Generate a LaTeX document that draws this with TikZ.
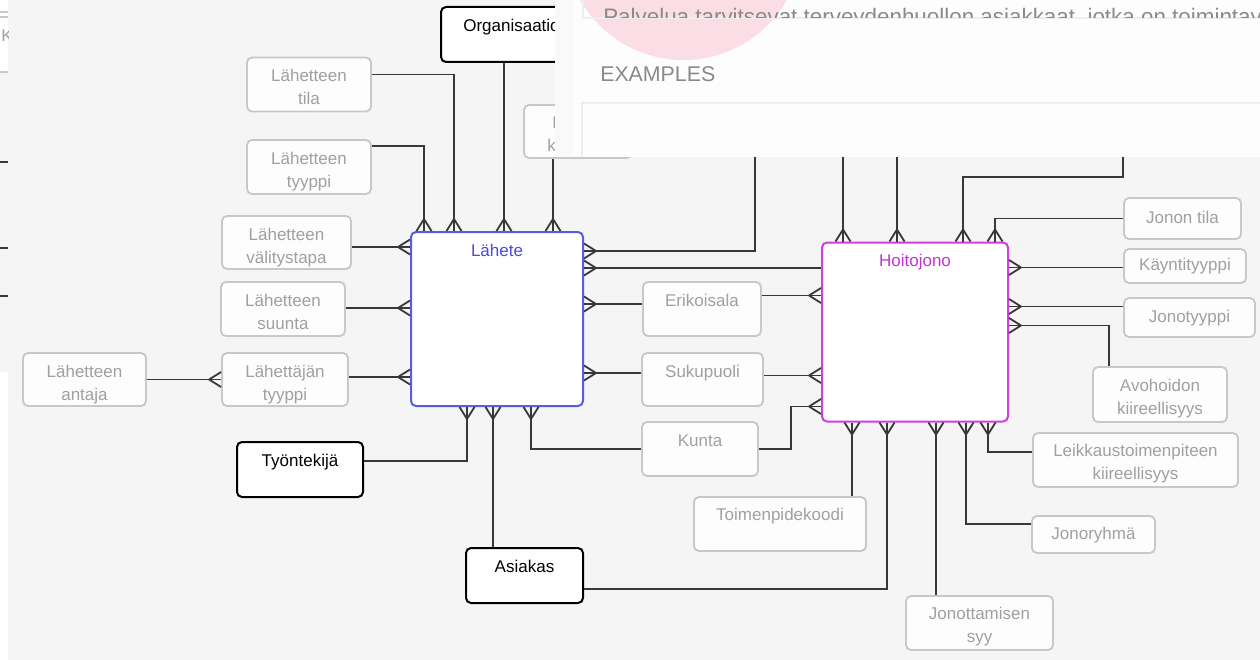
\documentclass[tikz,border=0pt]{standalone}
\usepackage{fontspec}
\setmainfont{Liberation Sans}
\usetikzlibrary{calc}
\definecolor{bgc}{HTML}{F5F5F5}
\definecolor{lnc}{HTML}{383838}
\definecolor{abd}{HTML}{C8C8C8}
\definecolor{atx}{HTML}{A0A0A0}
\definecolor{bluec}{HTML}{5A5AE8}
\definecolor{bluet}{HTML}{4B4BDB}
\definecolor{magc}{HTML}{D23DE3}
\definecolor{magt}{HTML}{C233D6}
\definecolor{pinkc}{HTML}{FBDDE6}
\definecolor{panelc}{HTML}{FDFDFD}
\definecolor{stripc}{HTML}{F9F9F9}
\definecolor{ptx}{HTML}{8A8A8A}
\definecolor{faint}{HTML}{EEEEEE}
\newcommand\dfs{\fontsize{12.75pt}{17.25pt}\selectfont}

\begin{document}
\begin{tikzpicture}[x=0.75pt,y=-0.75pt,
  sz/.style 2 args={minimum width=#1*0.75pt, minimum height=#2*0.75pt},
  conn/.style={draw=lnc, line width=1.35pt},
  attr/.style={draw=abd, fill=panelc, line width=1.4pt, rounded corners=3.75pt, inner sep=0pt},
  ent/.style={draw=black, fill=white, line width=1.5pt, rounded corners=3.75pt, inner sep=0pt},
  atxt/.style={font=\dfs, text=atx, align=center, inner sep=0pt},
  etxt/.style={font=\dfs, text=black, align=center, inner sep=0pt},
  crow/.pic={\draw[conn] (12,0) -- (0,7.5) (12,0) -- (0,-7.5);}
]
\useasboundingbox (0,0) rectangle (1260,660);
\fill[bgc] (0,0) rectangle (1260,660);

% left strip remnants
\fill[white] (0,0) rectangle (8,72);
\draw[abd, line width=1.2pt] (0,12) -- (8,12) (0,17) -- (8,17);
\draw[abd, line width=0.9pt] (0,72) -- (8,72);
\begin{scope}
  \clip (0,0) rectangle (8,72);
  \node[font=\dfs, text=atx, anchor=base west, inner sep=0pt] (stripk) at (1,42) {K};
\end{scope}
\fill[white] (0,372) rectangle (8,660);
\draw[lnc, line width=1.35pt] (0,162) -- (8,162) (0,248) -- (8,248) (0,296) -- (8,296);

% entities
\node[ent, sz={141}{55}] (org) at (511.5,34.5) {};
\node[etxt] (org-t) at ($(org.north)+(0,21)$) {\strut Organisaatio};
\node[ent, sz={126}{55}] (tyo) at (300,469.5) {};
\node[etxt] (tyo-t) at ($(tyo.north)+(0,21)$) {\strut Työntekijä};
\node[ent, sz={117}{55}] (asi) at (524.5,575.5) {};
\node[etxt] (asi-t) at ($(asi.north)+(0,21)$) {\strut Asiakas};
\node[ent, draw=bluec, sz={172}{174}] (lah) at (497,319) {};
\node[etxt, text=bluet] (lah-t) at ($(lah.north)+(0,21)$) {\strut Lähete};
\node[ent, draw=magc, sz={186}{179}] (hoi) at (915,332) {};
\node[etxt, text=magt] (hoi-t) at ($(hoi.north)+(0,20)$) {\strut Hoitojono};

% attributes, two lines
\node[attr, sz={124}{54}] (tila) at (309,84.5) {};
\node[atxt] (tila-t) at ($(tila.north)+(0,32)$) {\strut Lähetteen\\\strut tila};
\node[attr, sz={124}{54}] (tyyp) at (309,167) {};
\node[atxt] (tyyp-t) at ($(tyyp.north)+(0,32)$) {\strut Lähetteen\\\strut tyyppi};
\node[attr, sz={129}{53}] (valit) at (286.5,242.5) {};
\node[atxt] (valit-t) at ($(valit.north)+(0,32)$) {\strut Lähetteen\\\strut välitystapa};
\node[attr, sz={124}{54}] (suun) at (283,309) {};
\node[atxt] (suun-t) at ($(suun.north)+(0,32)$) {\strut Lähetteen\\\strut suunta};
\node[attr, sz={126}{53}] (lahtyyp) at (285,379.5) {};
\node[atxt] (lahtyyp-t) at ($(lahtyyp.north)+(0,32)$) {\strut Lähettäjän\\\strut tyyppi};
\node[attr, sz={123}{53}] (antaja) at (84.5,379.5) {};
\node[atxt] (antaja-t) at ($(antaja.north)+(0,32)$) {\strut Lähetteen\\\strut antaja};
\node[attr, sz={134}{55}] (avo) at (1160,394.5) {};
\node[atxt] (avo-t) at ($(avo.north)+(0,32)$) {\strut Avohoidon\\\strut kiireellisyys};
\node[attr, sz={205}{54}] (leik) at (1135.5,460) {};
\node[atxt] (leik-t) at ($(leik.north)+(0,31)$) {\strut Leikkaustoimenpiteen\\\strut kiireellisyys};
\node[attr, sz={147}{54}] (jsyy) at (979.5,623) {};
\node[atxt] (jsyy-t) at ($(jsyy.north)+(0,31)$) {\strut Jonottamisen\\\strut syy};

% attributes, one line at top
\node[attr, sz={118}{54}] (eri) at (702,309) {};
\node[atxt] (eri-t) at ($(eri.north)+(0,21)$) {\strut Erikoisala};
\node[attr, sz={121}{53}] (suk) at (702.5,379.5) {};
\node[atxt] (suk-t) at ($(suk.north)+(0,21)$) {\strut Sukupuoli};
\node[attr, sz={116}{54}] (kun) at (700,449) {};
\node[atxt] (kun-t) at ($(kun.north)+(0,21)$) {\strut Kunta};
\node[attr, sz={172}{54}] (toim) at (780,524) {};
\node[atxt] (toim-t) at ($(toim.north)+(0,20)$) {\strut Toimenpidekoodi};

% attributes, one line centred
\node[attr, atxt, sz={117}{41}] (jtila) at (1182.5,218.5) {\strut Jonon tila};
\node[attr, atxt, sz={122}{34}] (kaynti) at (1185,266) {\strut Käyntityyppi};
\node[attr, atxt, sz={131}{39}] (jtyyp) at (1189.5,317.5) {\strut Jonotyyppi};
\node[attr, atxt, sz={123}{37}] (jryh) at (1093.5,534.5) {\strut Jonoryhmä};

% hidden attribute behind the panel
\node[attr, sz={108}{53}] (hid) at (578,131.5) {};
\node[font=\dfs, text=atx, anchor=base west, inner sep=0pt] (hid-l) at (552,128) {L};
\node[font=\dfs, text=atx, anchor=base west, inner sep=0pt] (hid-k) at (547,151) {k};

% foot points
\coordinate (lT1) at ($(lah.north west)+(14,0)$);
\coordinate (lT2) at ($(lah.north west)+(44,0)$);
\coordinate (lT3) at ($(lah.north west)+(94,0)$);
\coordinate (lT4) at ($(lah.north west)+(143,0)$);
\coordinate (lL1) at ($(lah.north west)+(0,16)$);
\coordinate (lL2) at ($(lah.north west)+(0,77)$);
\coordinate (lL3) at ($(lah.north west)+(0,146)$);
\coordinate (lR1) at ($(lah.north east)+(0,20)$);
\coordinate (lR2) at ($(lah.north east)+(0,37)$);
\coordinate (lR3) at ($(lah.north east)+(0,73)$);
\coordinate (lR4) at ($(lah.north east)+(0,142)$);
\coordinate (lB1) at ($(lah.south west)+(57,0)$);
\coordinate (lB2) at ($(lah.south west)+(83,0)$);
\coordinate (lB3) at ($(lah.south west)+(121,0)$);
\coordinate (hT1) at ($(hoi.north west)+(22,0)$);
\coordinate (hT2) at ($(hoi.north west)+(76,0)$);
\coordinate (hT3) at ($(hoi.north west)+(142,0)$);
\coordinate (hT4) at ($(hoi.north west)+(174,0)$);
\coordinate (hL1) at ($(hoi.north west)+(0,54)$);
\coordinate (hL2) at ($(hoi.north west)+(0,134)$);
\coordinate (hL3) at ($(hoi.north west)+(0,165)$);
\coordinate (hR1) at ($(hoi.north east)+(0,26)$);
\coordinate (hR2) at ($(hoi.north east)+(0,65)$);
\coordinate (hR3) at ($(hoi.north east)+(0,84)$);
\coordinate (hB1) at ($(hoi.south west)+(31,0)$);
\coordinate (hB2) at ($(hoi.south west)+(66,0)$);
\coordinate (hB3) at ($(hoi.south west)+(115,0)$);
\coordinate (hB4) at ($(hoi.south west)+(145,0)$);
\coordinate (hB5) at ($(hoi.south west)+(167,0)$);
\coordinate (af) at (antaja.east -| lahtyyp.west);
\coordinate (pA) at (755,150);
\coordinate (pC) at (1123,177);

% connectors
\draw[conn] ($(tila.north east)+(0,18)$) -| (lT2);
\draw[conn] ($(tyyp.north east)+(0,7)$) -| (lT1);
\draw[conn] (lT3 |- org.south) -- (lT3);
\draw[conn] (lT4 |- hid.south) -- (lT4);
\draw[conn] (lL1 -| valit.east) -- (lL1);
\draw[conn] (lL2 -| suun.east) -- (lL2);
\draw[conn] (lL3 -| lahtyyp.east) -- (lL3);
\draw[conn] (antaja.east) -- (af);
\draw[conn] (lR1) -| (pA);
\draw[conn] (lR2) -- (lR2 -| hoi.west);
\draw[conn] (lR3) -- (lR3 -| eri.west);
\draw[conn] (lR4) -- (lR4 -| suk.west);
\draw[conn] (lB1) |- ($(tyo.north east)+(0,20)$);
\draw[conn] (lB2) -- (lB2 |- asi.north);
\draw[conn] (lB3) |- (kun.west);
\draw[conn] (hL1 -| eri.east) -- (hL1);
\draw[conn] (hL2 -| suk.east) -- (hL2);
\draw[conn] (kun.east) -- ++(32,0) |- (hL3);
\draw[conn] (hT1) -- (hT1 |- pA);
\draw[conn] (hT2) -- (hT2 |- pA);
\draw[conn] (hT3) |- (pC) -- (pC |- pA);
\draw[conn] (hT4) |- (jtila.west);
\draw[conn] (hR1) -- (hR1 -| kaynti.west);
\draw[conn] (hR2) -- (hR2 -| jtyyp.west);
\draw[conn] (hR3) -| ($(avo.north west)+(17,0)$);
\draw[conn] (hB1) -- (hB1 |- toim.north);
\draw[conn] (hB2) |- ($(asi.south east)+(0,-15)$);
\draw[conn] (hB3) -- (hB3 |- jsyy.north);
\draw[conn] (hB4) |- ($(jryh.north west)+(0,9)$);
\draw[conn] (hB5) |- ($(leik.north west)+(0,20)$);

% crow's feet
\foreach \c in {lT1,lT2,lT3,lT4,hT1,hT2,hT3,hT4} \pic[rotate=90] at (\c) {crow};
\foreach \c in {lL1,lL2,lL3,hL1,hL2,hL3,af} \pic[rotate=180] at (\c) {crow};
\foreach \c in {lR1,lR2,lR3,lR4,hR1,hR2,hR3} \pic at (\c) {crow};
\foreach \c in {lB1,lB2,lB3,hB1,hB2,hB3,hB4,hB5} \pic[rotate=-90] at (\c) {crow};

% overlay panel
\fill[stripc] (555,0) rectangle (573,157);
\fill[panelc] (573,0) rectangle (1260,157);
\draw[faint, line width=0.8pt] (582,157) -- (582,103) -- (1260,103);
\fill[pinkc] (683.5,-59) circle (89.25pt);
\draw[faint, line width=0.8pt] (583,0) -- (583,18) -- (1260,18);
\begin{scope}
  \clip (583,0) rectangle (1260,18);
  \node[font=\fontsize{16.8pt}{20pt}\selectfont, text=ptx, anchor=base west, inner sep=0pt] (ptxt) at (603,24.5) {Palvelua tarvitsevat terveydenhuollon asiakkaat, jotka on toimintay};
\end{scope}
\node[font=\fontsize{16pt}{19pt}\selectfont, text=ptx, anchor=base west, inner sep=0pt] (examples) at (600,82) {EXAMPLES};
\end{tikzpicture}
\end{document}
